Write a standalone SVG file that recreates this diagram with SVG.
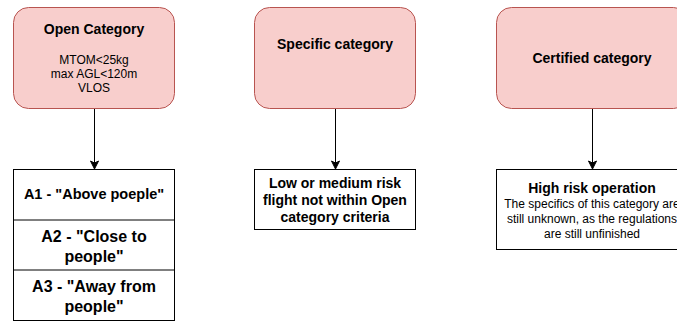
<svg xmlns="http://www.w3.org/2000/svg" width="677" height="323" viewBox="0 0 677 323">
<style>
.cat{fill:#f8cecc;stroke:#b85450;stroke-width:1}
.box{fill:#ffffff;stroke:#000000;stroke-width:1}
text{font-family:"Liberation Sans",Arial,sans-serif;fill:#000;text-anchor:middle}
.b{font-weight:bold;font-size:14px}
.r{font-size:12px}
.b16{font-weight:bold;font-size:16px}
.edge{stroke:#000;stroke-width:1;fill:none}
.head{fill:#000;stroke:#000;stroke-width:1}
</style>
<rect width="677" height="323" fill="#ffffff"/>
<g id="open-category">
<rect class="cat" x="13.5" y="7.5" width="161" height="101" rx="15" ry="15"/>
<text class="b" x="94" y="34">Open Category</text>
<text class="r" x="94" y="64">MTOM&lt;25kg</text>
<text class="r" x="94" y="78">max AGL&lt;120m</text>
<text class="r" x="94" y="92">VLOS</text>
</g>
<g id="specific-category">
<rect class="cat" x="254.5" y="7.5" width="161" height="101" rx="15" ry="15"/>
<text class="b" x="335" y="49">Specific category</text>
</g>
<g id="certified-category">
<rect class="cat" x="496.5" y="7.5" width="192" height="101" rx="15" ry="15"/>
<text class="b" x="592" y="63">Certified category</text>
</g>
<g id="open-subcategories">
<rect class="box" x="13.5" y="169.5" width="161" height="151"/>
<line class="edge" x1="13.5" y1="220" x2="174.5" y2="220"/>
<line class="edge" x1="13.5" y1="270" x2="174.5" y2="270"/>
<text class="b" style="font-size:14.5px" x="94" y="199">A1 - "Above poeple"</text>
<text class="b16" x="94" y="242">A2 - "Close to</text>
<text class="b16" x="94" y="262">people"</text>
<text class="b16" x="94" y="292">A3 - "Away from</text>
<text class="b16" x="94" y="312">people"</text>
</g>
<g id="specific-detail">
<rect class="box" x="254.5" y="169.5" width="161" height="60"/>
<text class="b" x="335" y="188">Low or medium risk</text>
<text class="b" x="335" y="205">flight not within Open</text>
<text class="b" x="335" y="222">category criteria</text>
</g>
<g id="certified-detail">
<rect class="box" x="496.5" y="169.5" width="192" height="80"/>
<text class="b" x="592" y="193">High risk operation</text>
<text class="r" x="592" y="207.5">The specifics of this category are</text>
<text class="r" x="592" y="222.5">still unknown, as the regulations</text>
<text class="r" x="592" y="237.5">are still unfinished</text>
</g>
<g id="connectors">
<line class="edge" x1="94.5" y1="109" x2="94.5" y2="163"/>
<polygon class="head" points="94.5,169 90.5,161 94.5,163 98.5,161"/>
<line class="edge" x1="335.5" y1="109" x2="335.5" y2="163"/>
<polygon class="head" points="335.5,169 331.5,161 335.5,163 339.5,161"/>
<line class="edge" x1="592.5" y1="109" x2="592.5" y2="163"/>
<polygon class="head" points="592.5,169 588.5,161 592.5,163 596.5,161"/>
</g>
</svg>
